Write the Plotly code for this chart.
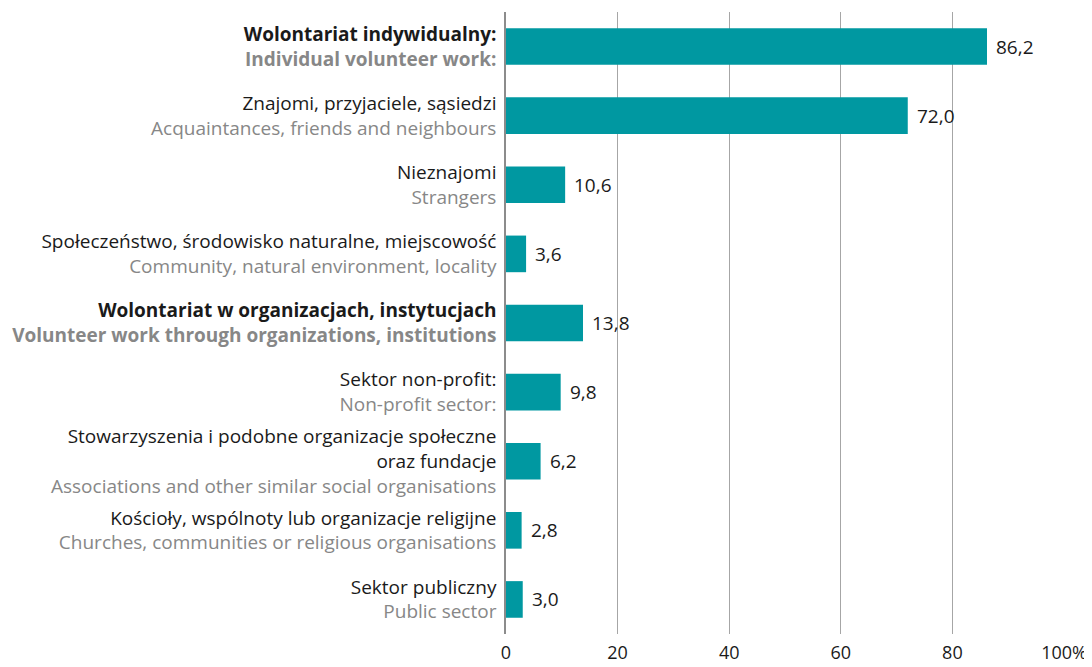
import plotly.graph_objects as go

polish = [
    "<b>Wolontariat indywidualny:</b>",
    "Znajomi, przyjaciele, sąsiedzi",
    "Nieznajomi",
    "Społeczeństwo, środowisko naturalne, miejscowość",
    "<b>Wolontariat w organizacjach, instytucjach</b>",
    "Sektor non-profit:",
    "Stowarzyszenia i podobne organizacje społeczne<br>oraz fundacje",
    "Kościoły, wspólnoty lub organizacje religijne",
    "Sektor publiczny",
]
english = [
    "<b>Individual volunteer work:</b>",
    "Acquaintances, friends and neighbours",
    "Strangers",
    "Community, natural environment, locality",
    "<b>Volunteer work through organizations, institutions</b>",
    "Non-profit sector:",
    "Associations and other similar social organisations",
    "Churches, communities or religious organisations",
    "Public sector",
]
values = [86.2, 72.0, 10.6, 3.6, 13.8, 9.8, 6.2, 2.8, 3.0]
x_ticks = [0, 20, 40, 60, 80, 100]
x_tick_labels = ["0", "20", "40", "60", "80", "100%"]

BLACK = "#1a1a1a"
GREY = "#878787"
TEAL = "#0098a1"
FONT = "Open Sans"

labels = [f"<span style='color:{BLACK}'>{p}</span><br><span style='color:{GREY}'>{e}</span>"
          for p, e in zip(polish, english)]
ids = list(range(len(values)))

fig = go.Figure()
fig.add_trace(go.Bar(
    y=ids, x=values, orientation="h",
    marker=dict(color=TEAL, line=dict(width=0)),
    width=0.53, hoverinfo="skip",
))

for i, v in zip(ids, values):
    fig.add_annotation(
        x=v, y=i, xref="x", yref="y",
        text=f"{v:.1f}".replace(".", ","),
        showarrow=False, xanchor="left", xshift=7,
        font=dict(size=19, color=BLACK, family=FONT),
    )

# page body adds an 8px offset, so the figure is sized to fit the window
fig.update_layout(
    width=1084, height=659,
    margin=dict(l=498, r=28, t=4, b=33, autoexpand=False),
    paper_bgcolor="white", plot_bgcolor="white",
    showlegend=False,
    font=dict(family=FONT, size=19, color=BLACK),
)
fig.update_xaxes(
    range=[0, 100], tickvals=x_ticks, ticktext=x_tick_labels,
    showgrid=True, gridcolor="#a6a6a6", gridwidth=1,
    zeroline=False, showline=False, ticks="",
    ticklabelstandoff=6, automargin=False,
    tickfont=dict(size=18, color=BLACK),
)
fig.update_yaxes(
    tickvals=ids, ticktext=labels,
    autorange=False, range=[len(values) - 0.5, -0.5],
    showgrid=False, zeroline=False,
    showline=True, linecolor="#8c8c8c", linewidth=1.5,
    ticks="", ticklabelstandoff=4, automargin=False,
    tickfont=dict(size=19),
)

fig.write_html("out.html")
